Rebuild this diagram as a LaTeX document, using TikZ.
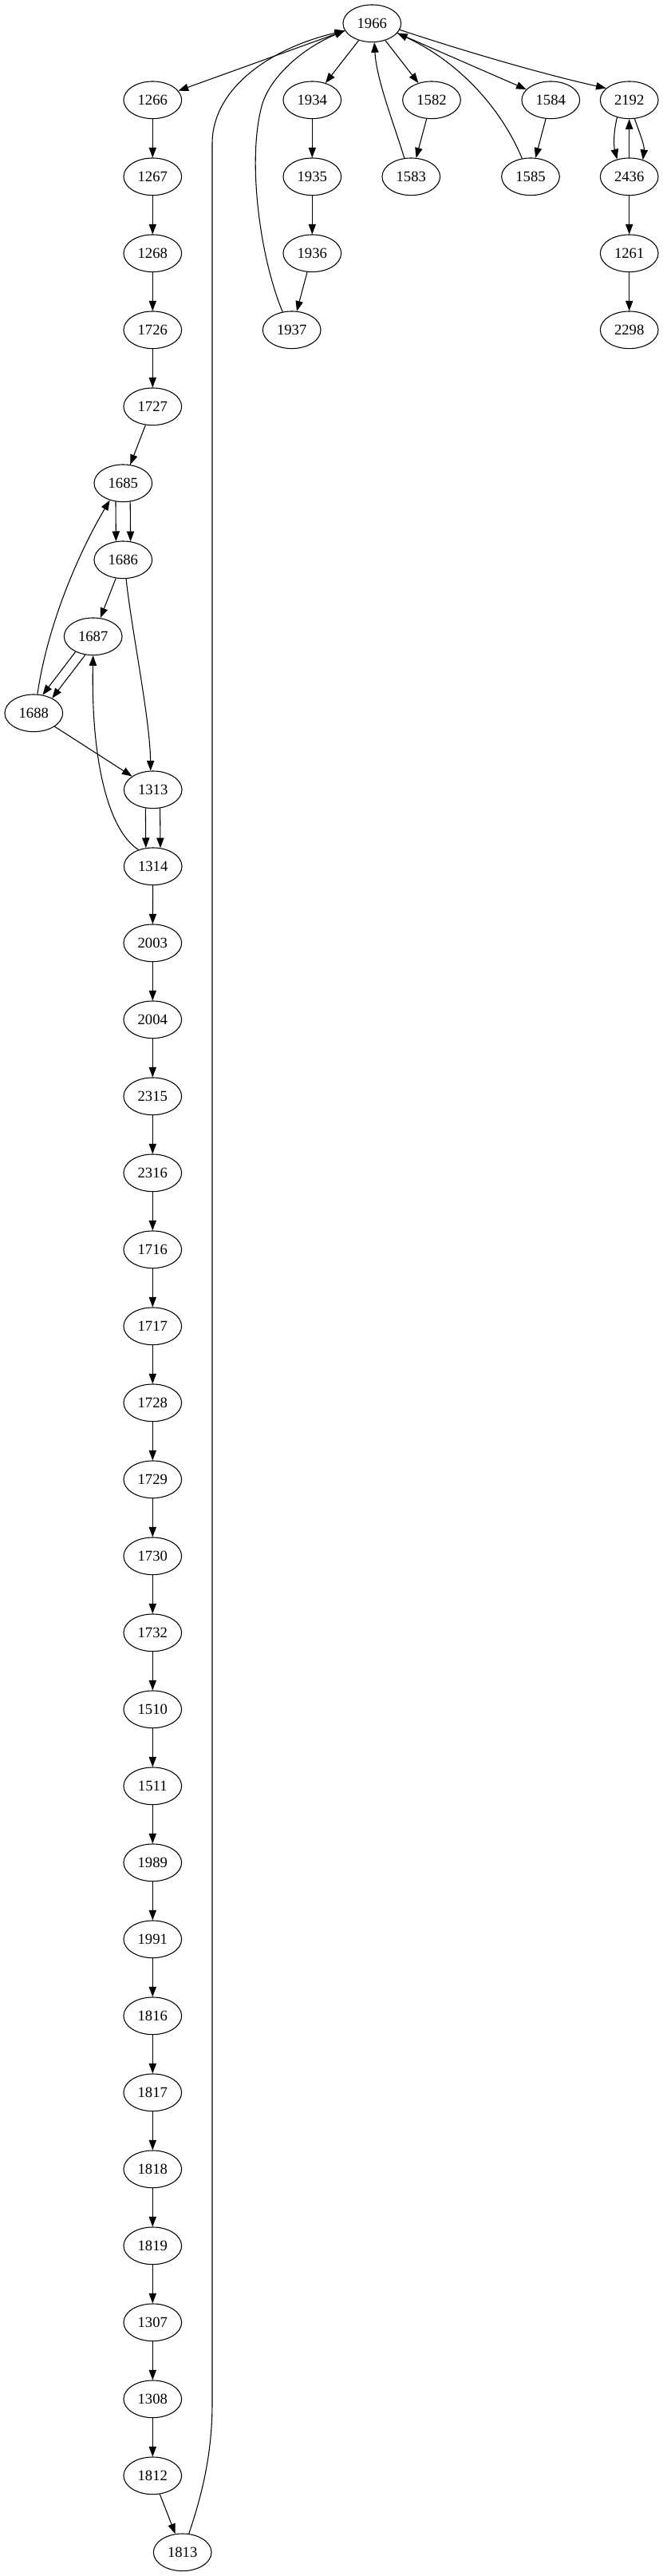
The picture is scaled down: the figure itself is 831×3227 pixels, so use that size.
\documentclass[tikz,border=0pt]{standalone}
\usepackage{fontspec}
\setmainfont{Liberation Serif}
\usetikzlibrary{shapes.geometric,arrows.meta}
\begin{document}
\begin{tikzpicture}[x=0.75pt,y=-0.75pt,
  vtx/.style={draw,ellipse,minimum width=54.5pt,minimum height=35pt,inner sep=0pt,line width=0.8pt,font=\fontsize{14}{16}\selectfont},
  edge/.style={line width=0.8pt,-{Triangle[length=9.5pt,width=7pt]}}]
\useasboundingbox (0,0) rectangle (831,3227);
% top area
\node[vtx] (n1966) at (466.3,29.3) {1966};
\node[vtx] (n1266) at (191.3,125.3) {1266};
\node[vtx] (n1934) at (391.3,125.3) {1934};
\node[vtx] (n1582) at (541,125.3) {1582};
\node[vtx] (n1584) at (690.3,125.3) {1584};
\node[vtx] (n2192) at (788.7,125.3) {2192};
\node[vtx] (n1267) at (191.3,221.3) {1267};
\node[vtx] (n1935) at (391.3,221.3) {1935};
\node[vtx] (n1583) at (515.3,221.3) {1583};
\node[vtx] (n1585) at (665,221.3) {1585};
\node[vtx] (n2436) at (788.7,221.3) {2436};
\node[vtx] (n1268) at (191.3,317.3) {1268};
\node[vtx] (n1936) at (391.3,317.3) {1936};
\node[vtx] (n1261) at (788.7,317.3) {1261};
\node[vtx] (n1726) at (191.3,413.3) {1726};
\node[vtx] (n1937) at (365.7,413.3) {1937};
\node[vtx] (n2298) at (788.7,413.3) {2298};
\node[vtx] (n1727) at (191.3,509.3) {1727};
\node[vtx] (n1685) at (154.3,605.3) {1685};
\node[vtx] (n1686) at (154.3,701.3) {1686};
\node[vtx] (n1687) at (116.7,797.3) {1687};
\node[vtx] (n1688) at (42.3,893.3) {1688};
\node[vtx] (n1313) at (191.7,989.3) {1313};
\node[vtx] (n1314) at (191.7,1085.3) {1314};
\foreach \n [count=\i from 12] in {2003,2004,2315,2316,1716,1717,1728,1729,1730,1732,1510,1511,1989,1991,1816,1817,1818,1819,1307,1308,1812}
  \node[vtx] (n\n) at (191.3,29.3+96*\i) {\n};
\node[vtx] (n1813) at (228.7,3197.3) {1813};

% straight edges
\foreach \a/\b in {1966/1934,1966/1582,1266/1267,1267/1268,1268/1726,1726/1727,1727/1685,
  1934/1935,1935/1936,1936/1937,1582/1583,1584/1585,2436/1261,1261/2298,
  1686/1687,1688/1313,1314/2003,2003/2004,2004/2315,2315/2316,2316/1716,1716/1717,1717/1728,
  1728/1729,1729/1730,1730/1732,1732/1510,1510/1511,1511/1989,1989/1991,1991/1816,1816/1817,
  1817/1818,1818/1819,1819/1307,1307/1308,1308/1812,1812/1813}
  \draw[edge] (n\a) -- (n\b);

\draw[edge] (n1966.195) -- (n1266);
\draw[edge] (n1966.339) -- (n1584);
\draw[edge] (n1966.347) .. controls (600,70) and (690,95) .. (n2192.153);
\draw[edge] (n2436.north) -- (n2192.south);
\draw[edge] (n2192.235) .. controls (769,165) and (769,182) .. (n2436.125);
\draw[edge] (n2192.286) .. controls (801,165) and (808,182) .. (n2436.51);

% back edges into 1966
\draw[edge] (n1937.117) .. controls (325,320) and (310,200) .. (328,133)
  .. controls (338,96) and (380,60) .. (n1966.195);
\draw[edge] (n1813.71) .. controls (255,3120) and (266,3070) .. (266,3010) -- (266,180)
  .. controls (266,110) and (340,60) .. (n1966.195);
\draw[edge] (n1583.110) .. controls (492,150) and (472,100) .. (n1966.277);
\draw[edge] (n1585.115) .. controls (630,140) and (580,80) .. (n1966.339);

% middle cluster
\draw[edge] (n1685.248.5) -- (n1686.111.5);
\draw[edge] (n1685.291.5) -- (n1686.68.5);
\draw[edge] (n1313.248.5) -- (n1314.111.5);
\draw[edge] (n1313.291.5) -- (n1314.68.5);
\draw[edge] (n1687.221.6) -- (n1688.64.7);
\draw[edge] (n1687.247) -- (n1688.39.3);
\draw[edge] (n1688.79) .. controls (60,780) and (100,690) .. (n1685.232.6);
\draw[edge] (n1686.279) .. controls (165,790) and (188,900) .. (n1313.97);
\draw[edge] (n1314.131.7) .. controls (135,1040) and (114,950) .. (n1687.270);
\end{tikzpicture}
\end{document}
